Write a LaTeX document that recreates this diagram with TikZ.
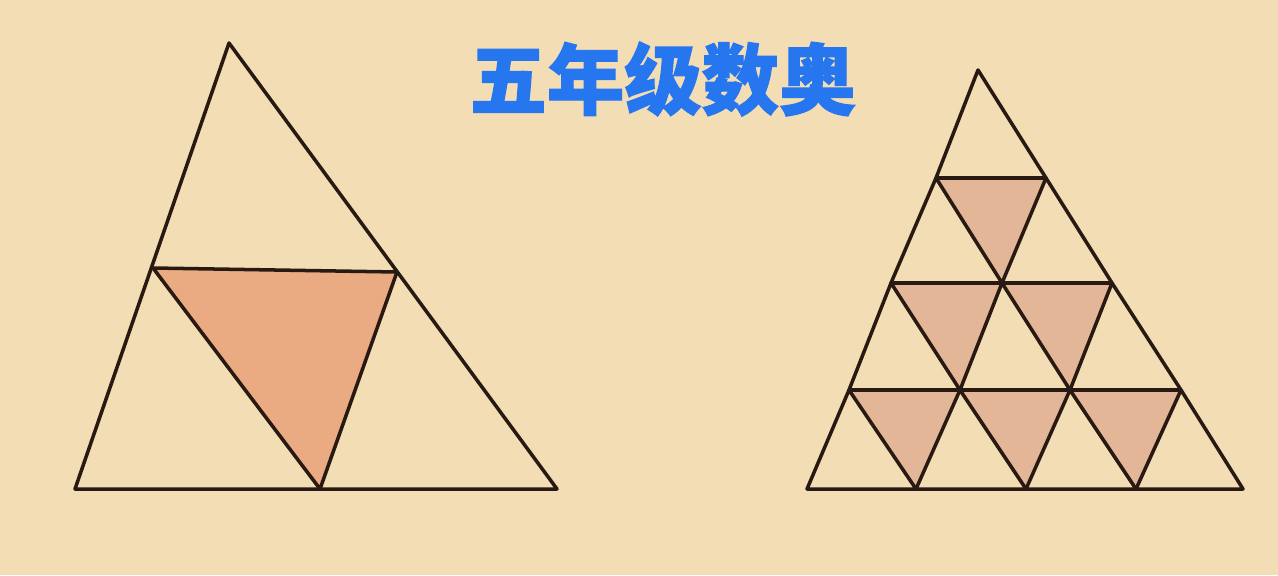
\documentclass[tikz,border=0pt]{standalone}
\usepackage{fontspec}
\newfontfamily\cjk[BoldFeatures={FakeBold=1.5}]{Noto Sans CJK SC}
\definecolor{paper}{RGB}{242,221,180}
\definecolor{ink}{RGB}{40,26,18}
\definecolor{shadeL}{RGB}{234,170,130}
\definecolor{shadeR}{RGB}{226,182,150}
\definecolor{titleblue}{RGB}{38,118,240}
\tikzset{
  edge/.style={draw=ink, line width=2pt, line join=round, line cap=round},
  shadedL/.style={fill=shadeL},
  shadedR/.style={fill=shadeR},
}
\begin{document}
\begin{tikzpicture}[x=0.02cm,y=-0.02cm]
\fill[paper] (0,0) rectangle (1278,575);
\useasboundingbox (0,0) rectangle (1278,575);
% title
\node[text=titleblue, inner sep=0] (title) at (663,79) {\cjk\bfseries\fontsize{44}{44}\selectfont 五年级数奥};
% left triangle
\coordinate (LA) at (229,43);
\coordinate (LB) at (75,489);
\coordinate (LC) at (557,489);
\coordinate (LP) at (153,268);
\coordinate (LQ) at (397,272);
\coordinate (LR) at (320,489);
\fill[shadedL] (LP) -- (LQ) -- (LR) -- cycle;
\draw[edge] (LA) -- (LB) -- (LC) -- cycle;
\draw[edge] (LP) -- (LQ) -- (LR) -- cycle;
% right triangle lattice
\coordinate (P00) at (978,70);
\coordinate (P10) at (936,178);
\coordinate (P11) at (1046,178);
\coordinate (P20) at (891,283);
\coordinate (P21) at (1002,283);
\coordinate (P22) at (1112,283);
\coordinate (P30) at (849,390);
\coordinate (P31) at (960,390);
\coordinate (P32) at (1070,390);
\coordinate (P33) at (1181,390);
\coordinate (P40) at (807,489);
\coordinate (P41) at (916,489);
\coordinate (P42) at (1026,489);
\coordinate (P43) at (1136,489);
\coordinate (P44) at (1243,489);
% shaded downward triangles
\foreach \a/\b/\c in {P10/P11/P21, P20/P21/P31, P21/P22/P32, P30/P31/P41, P31/P32/P42, P32/P33/P43}
  \fill[shadedR] (\a) -- (\b) -- (\c) -- cycle;
% upward triangles (all edges)
\foreach \a/\b/\c in {P00/P10/P11, P10/P20/P21, P11/P21/P22, P20/P30/P31, P21/P31/P32, P22/P32/P33, P30/P40/P41, P31/P41/P42, P32/P42/P43, P33/P43/P44}
  \draw[edge] (\a) -- (\b) -- (\c) -- cycle;
\end{tikzpicture}
\end{document}
